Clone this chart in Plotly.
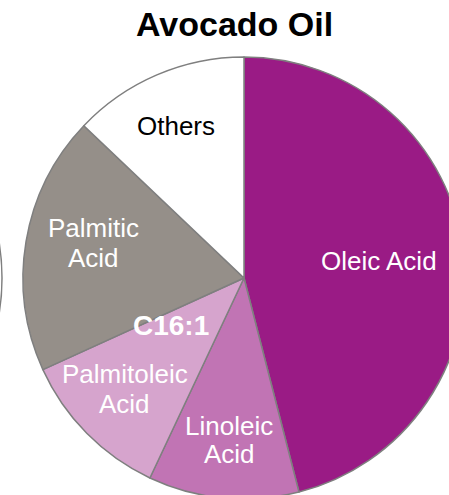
import plotly.graph_objects as go

# ---- data ----
labels = ["Oleic Acid", "Linoleic Acid", "Palmitoleic Acid", "Palmitic Acid", "Others"]
values = [46.0, 11.0, 11.2, 18.9, 12.9]
label_lines = [["Oleic Acid"], ["Linoleic", "Acid"], ["Palmitoleic", "Acid"], ["Palmitic", "Acid"], ["Others"]]
title_text = "Avocado Oil"
extra_label = "C16:1"

# ---- styles ----
colors = ["#9A1B85", "#C174B4", "#D6A4CD", "#958F89", "#FFFFFF"]
text_colors = ["white", "white", "white", "white", "black"]
FONT = "Liberation Sans, Arial, sans-serif"
W, H = 466, 500            # figure larger than window; pie is cropped like the reference
CX, CY, R = 244, 278, 221  # pie centre / radius in pixels

def px(x):
    return x / W

def py(y):
    return 1 - y / H

fig = go.Figure(go.Pie(
    labels=labels,
    values=values,
    sort=False,
    direction="clockwise",
    rotation=0,
    marker=dict(colors=colors, line=dict(color="#7F7F7F", width=1.5)),
    textinfo="none",
    hoverinfo="skip",
    showlegend=False,
    domain=dict(x=[px(CX - R), px(CX + R)], y=[py(CY + R), py(CY - R)]),
))

# label line positions (pixels): x centre, y of each line
label_pos = [(379, [260.5]), (229, [426, 454]), (125, [374, 404]), (93, [227.5, 258]), (176, [126])]
annotations = []
for lines, c, (lx, lys) in zip(label_lines, text_colors, label_pos):
    for t, ly in zip(lines, lys):
        annotations.append(dict(x=px(lx), y=py(ly), xref="paper", yref="paper",
                                text=t, showarrow=False, xanchor="center", yanchor="middle",
                                font=dict(family=FONT, size=26, color=c)))
annotations.append(dict(x=px(171), y=py(325), xref="paper", yref="paper",
                        text="<b>" + extra_label + "</b>", showarrow=False,
                        xanchor="center", yanchor="middle",
                        font=dict(family=FONT, size=28, color="white")))
annotations.append(dict(x=px(234), y=py(24), xref="paper", yref="paper",
                        text="<b>" + title_text + "</b>", showarrow=False,
                        xanchor="center", yanchor="middle",
                        font=dict(family=FONT, size=34, color="black")))

# edge of the neighbouring pie at the far left
shapes = [dict(type="circle", xref="paper", yref="paper",
               x0=px(-219 - R), x1=px(-219 + R), y0=py(CY + R), y1=py(CY - R),
               line=dict(color="#7F7F7F", width=1.5))]

fig.update_layout(
    width=W, height=H,
    margin=dict(l=0, r=0, t=0, b=0),
    paper_bgcolor="white",
    plot_bgcolor="white",
    annotations=annotations,
    shapes=shapes,
)

fig.write_html("out.html", post_script="document.documentElement.style.overflow='hidden';document.body.style.overflow='hidden';document.body.style.margin='0';")
